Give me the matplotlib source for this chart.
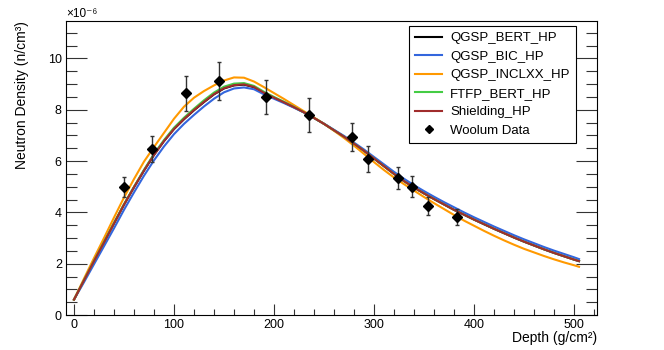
import numpy as np
import matplotlib
matplotlib.use("Agg")
import matplotlib.pyplot as plt
from matplotlib.ticker import MultipleLocator

plt.rcParams['font.family'] = ['Liberation Sans', 'DejaVu Sans']

# simulated curves, neutron density in units of 1e-6 n/cm^3
depth = list(range(0, 501, 10)) + [505]
qgsp_bert = [0.6, 1.35, 2.1, 2.83, 3.57, 4.3, 4.98, 5.63, 6.24, 6.78,
             7.25, 7.63, 7.98, 8.3, 8.6, 8.83, 8.95, 8.98, 8.88, 8.65,
             8.47, 8.29, 8.1, 7.9, 7.68, 7.45, 7.2, 6.95, 6.68, 6.4,
             6.1, 5.8, 5.5, 5.22, 4.97, 4.74, 4.52, 4.31, 4.1, 3.91,
             3.72, 3.54, 3.36, 3.19, 3.02, 2.86, 2.71, 2.56, 2.42, 2.29,
             2.16, 2.1]
qgsp_bic = [0.6, 1.28, 1.98, 2.68, 3.38, 4.1, 4.78, 5.43, 6.03, 6.57,
            7.05, 7.45, 7.8, 8.13, 8.43, 8.68, 8.83, 8.87, 8.8, 8.6,
            8.43, 8.26, 8.08, 7.89, 7.68, 7.46, 7.22, 6.98, 6.72, 6.45,
            6.16, 5.87, 5.58, 5.31, 5.06, 4.83, 4.61, 4.4, 4.2, 4.0,
            3.81, 3.63, 3.45, 3.28, 3.11, 2.95, 2.8, 2.65, 2.51, 2.38,
            2.25, 2.18]
qgsp_inclxx = [0.6, 1.42, 2.22, 3.0, 3.8, 4.58, 5.3, 5.98, 6.55, 7.1,
               7.65, 8.12, 8.47, 8.73, 8.95, 9.14, 9.26, 9.25, 9.1, 8.88,
               8.65, 8.42, 8.18, 7.94, 7.7, 7.45, 7.18, 6.9, 6.6, 6.28,
               5.96, 5.65, 5.36, 5.1, 4.85, 4.6, 4.36, 4.13, 3.9, 3.68,
               3.48, 3.28, 3.09, 2.91, 2.74, 2.58, 2.44, 2.3, 2.17, 2.05,
               1.94, 1.88]
ftfp_bert = [0.6, 1.36, 2.11, 2.85, 3.59, 4.32, 5.0, 5.66, 6.28, 6.82,
             7.3, 7.69, 8.04, 8.37, 8.67, 8.9, 9.02, 9.04, 8.93, 8.7,
             8.5, 8.31, 8.11, 7.9, 7.68, 7.45, 7.2, 6.95, 6.68, 6.4,
             6.1, 5.8, 5.5, 5.22, 4.97, 4.74, 4.52, 4.31, 4.1, 3.91,
             3.72, 3.54, 3.36, 3.19, 3.02, 2.86, 2.71, 2.56, 2.42, 2.29,
             2.16, 2.1]
shielding = [0.6, 1.35, 2.1, 2.83, 3.57, 4.3, 4.98, 5.63, 6.24, 6.78,
             7.25, 7.64, 7.99, 8.31, 8.61, 8.84, 8.96, 8.99, 8.89, 8.66,
             8.47, 8.29, 8.1, 7.9, 7.68, 7.45, 7.2, 6.95, 6.68, 6.4,
             6.1, 5.8, 5.5, 5.22, 4.97, 4.74, 4.52, 4.31, 4.1, 3.91,
             3.72, 3.54, 3.36, 3.19, 3.02, 2.86, 2.71, 2.56, 2.42, 2.29,
             2.16, 2.1]

# Woolum measurements
w_depth = [50, 78, 112, 145, 192, 235, 278, 294, 324, 338, 354, 383]
w_dens = [5.0, 6.47, 8.64, 9.13, 8.49, 7.8, 6.93, 6.08, 5.33, 5.0, 4.25, 3.81]
w_err = [0.39, 0.52, 0.68, 0.73, 0.67, 0.65, 0.55, 0.49, 0.43, 0.4, 0.34, 0.31]

fig = plt.figure(figsize=(6.64, 3.5), dpi=100)
ax = fig.add_axes([0.0994, 0.10, 0.7997, 0.84])

lw = 1.5
ax.plot(depth, qgsp_bert, color='black', lw=lw, label='QGSP_BERT_HP')
ax.plot(depth, qgsp_bic, color='#3366dd', lw=lw, label='QGSP_BIC_HP')
ax.plot(depth, qgsp_inclxx, color='#ff9900', lw=lw, label='QGSP_INCLXX_HP')
ax.plot(depth, ftfp_bert, color='#44cc44', lw=lw, label='FTFP_BERT_HP')
ax.plot(depth, shielding, color='#a02c2c', lw=lw, label='Shielding_HP')
ax.errorbar(w_depth, w_dens, yerr=w_err, fmt='none', ecolor='#333333',
            elinewidth=1, capsize=1.5)
ax.plot(w_depth, w_dens, 'D', color='black', ms=5, label='Woolum Data')

ax.set_xlim(-8, 523)
ax.set_ylim(0, 11.46)

ax.xaxis.set_major_locator(MultipleLocator(100))
ax.xaxis.set_minor_locator(MultipleLocator(20))
ax.yaxis.set_major_locator(MultipleLocator(2))
ax.yaxis.set_minor_locator(MultipleLocator(0.5))
ax.tick_params(which='both', direction='in', right=True, top=False,
               labelsize=9, width=0.8, color='#333333', pad=3)
ax.tick_params(axis='y', which='major', length=15)
ax.tick_params(axis='y', which='minor', length=8)
ax.tick_params(axis='x', which='major', length=8)
ax.tick_params(axis='x', which='minor', length=4)
for s in ax.spines.values():
    s.set_linewidth(0.8)

ax.text(0, 1.005, '×10⁻⁶', transform=ax.transAxes,
        fontsize=8.5, ha='left', va='bottom')
ax.set_xlabel('Depth (g/cm²)', fontsize=10, ha='right', va='top')
ax.xaxis.set_label_coords(1.0, -0.055)
ax.set_ylabel('Neutron Density (n/cm³)', fontsize=10, ha='right')
ax.yaxis.set_label_coords(-0.07, 1.0)

leg = ax.legend(loc='upper right', bbox_to_anchor=(0.96, 0.983), fontsize=9.5,
                fancybox=False, framealpha=1, edgecolor='black',
                handlelength=2.1, handletextpad=0.6, labelspacing=0.48,
                borderpad=0.45, borderaxespad=0, markerscale=0.8)
leg.get_frame().set_linewidth(0.8)

fig.savefig('out.png', dpi=100)
